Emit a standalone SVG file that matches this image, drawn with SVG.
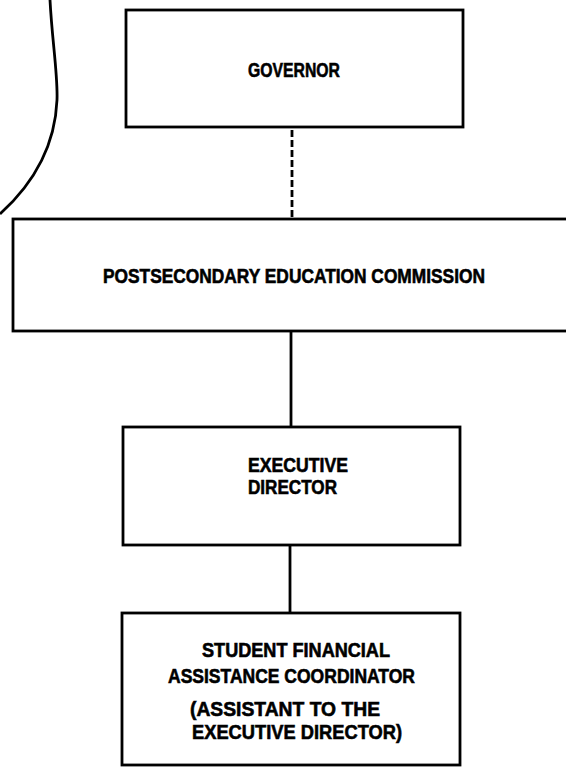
<svg xmlns="http://www.w3.org/2000/svg" width="566" height="767" viewBox="0 0 566 767">
<style>
.box{fill:#fff;stroke:#000;stroke-width:2.8}
.t{font-family:"Liberation Sans",Arial,sans-serif;font-weight:bold;font-size:20px;fill:#000;stroke:#000;stroke-width:0.6}
.c{fill:none;stroke:#000;stroke-width:2.8}
</style>
<rect width="566" height="767" fill="#fff"/>
<path class="c" d="M50 0 C52 40 58 75 57 100 C55 148 32 185 0 214"/>
<g id="connectors">
<line class="c" x1="292" y1="130" x2="292" y2="219" stroke-dasharray="7 3"/>
<line class="c" x1="291" y1="331" x2="291" y2="427"/>
<line class="c" x1="290" y1="545" x2="290" y2="613"/>
</g>
<g id="governor">
<rect class="box" x="126" y="10" width="337" height="117"/>
<text class="t" x="248" y="77" textLength="92" lengthAdjust="spacingAndGlyphs">GOVERNOR</text>
</g>
<g id="commission">
<rect class="box" x="13" y="219" width="570" height="112"/>
<text class="t" x="103" y="283" textLength="382" lengthAdjust="spacingAndGlyphs">POSTSECONDARY EDUCATION COMMISSION</text>
</g>
<g id="executive">
<rect class="box" x="123" y="427" width="337" height="118"/>
<text class="t" x="248" y="472" textLength="100" lengthAdjust="spacingAndGlyphs">EXECUTIVE</text>
<text class="t" x="248" y="494" textLength="89" lengthAdjust="spacingAndGlyphs">DIRECTOR</text>
</g>
<g id="coordinator">
<rect class="box" x="122" y="613" width="338" height="152"/>
<text class="t" x="202" y="657" textLength="188" lengthAdjust="spacingAndGlyphs">STUDENT FINANCIAL</text>
<text class="t" x="168" y="683" textLength="247" lengthAdjust="spacingAndGlyphs">ASSISTANCE COORDINATOR</text>
<text class="t" x="190" y="716" textLength="190" lengthAdjust="spacingAndGlyphs">(ASSISTANT TO THE</text>
<text class="t" x="192" y="739" textLength="210" lengthAdjust="spacingAndGlyphs">EXECUTIVE DIRECTOR)</text>
</g>
</svg>
